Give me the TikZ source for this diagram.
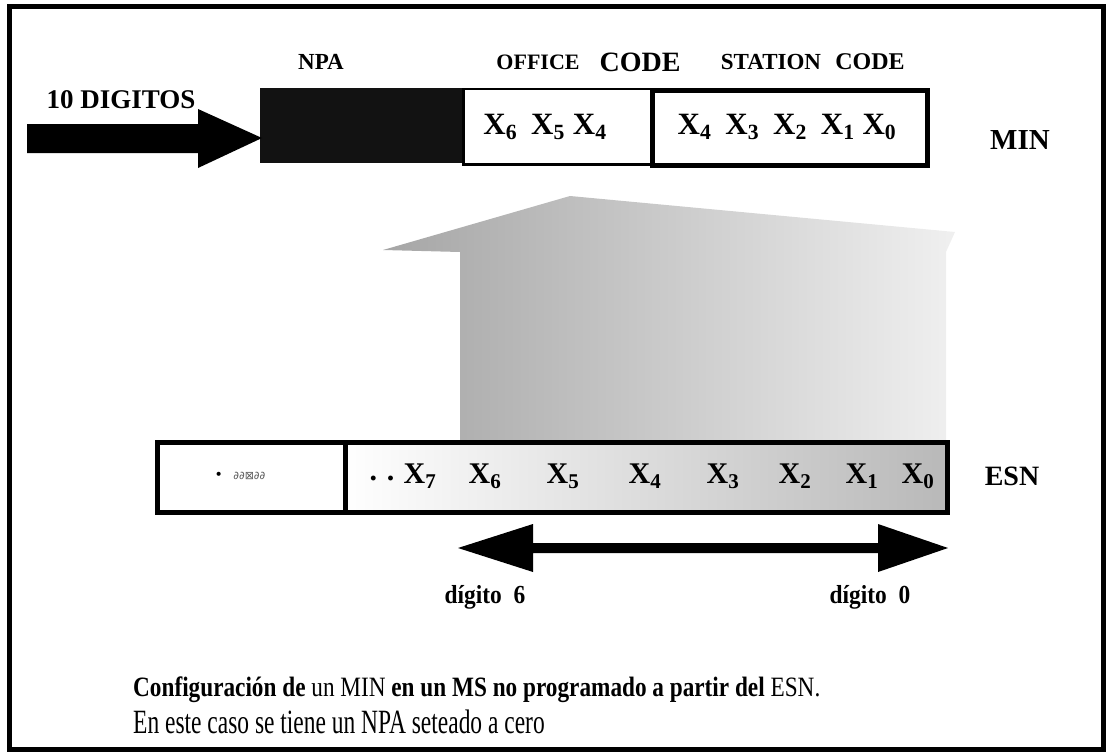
\documentclass[tikz,border=0pt]{standalone}
\usepackage{fontspec}
\setmainfont{Liberation Serif}
\newfontfamily\djv{DejaVu Sans}
\usetikzlibrary{arrows.meta}
\tikzset{
  lbl/.style={font=\bfseries\fontsize{23}{26}\selectfont, inner sep=0pt},
  big/.style={font=\bfseries\fontsize{28}{30}\selectfont, inner sep=0pt},
  dig/.style={font=\bfseries\fontsize{31}{32}\selectfont, inner sep=0pt},
  edig/.style={font=\bfseries\fontsize{30}{32}\selectfont, inner sep=0pt},
  frame/.style={line width=5pt},
}
\newcommand{\Xs}[1]{X\textsubscript{#1}}
\newcommand{\gp}{\hspace{14pt}}
\begin{document}
\begin{tikzpicture}[x=1pt,y=-1pt]
\useasboundingbox (0,0) rectangle (1106,752);
\draw[frame] (9.5,6.5) rectangle (1103.5,749.5);

% big up arrow (shaded)
\shade[left color=gray!70, right color=gray!12]
  (460,440) -- (460,252) -- (383,250) -- (570,196) -- (955,232) -- (946,252) -- (946,440) -- cycle;

% MIN box
\fill[black!93] (260,88) rectangle (462,163);
\node[lbl] (npa) at (321,62) {NPA};
\node[lbl,font=\bfseries\fontsize{22}{26}\selectfont] (office) at (538,62) {OFFICE};
\node[big] (code1) at (640,62) {CODE};
\node[lbl] (station) at (771,62) {STATION};
\node[lbl,font=\bfseries\fontsize{24}{26}\selectfont] (code2) at (870,62) {CODE};
\node[draw,line width=2.5pt,fill=white,minimum width=188pt,minimum height=75pt,anchor=north west] (off) at (462,88) {};
\node[draw,line width=5pt,fill=white,minimum width=275pt,minimum height=75pt,anchor=north west] (sta) at (650,88) {};
\node[dig] at (545,127) {\Xs{6}\gp\Xs{5}\hspace{8pt}\Xs{4}};
\node[dig] at (787,127) {\Xs{4}\gp\Xs{3}\gp\Xs{2}\gp\Xs{1}\hspace{8pt}\Xs{0}};
\node[big,font=\bfseries\fontsize{29}{30}\selectfont] (min) at (1020,140) {MIN};

% left arrow
\node[big,font=\bfseries\fontsize{27}{28}\selectfont] (d10) at (121,100) {10 DIGITOS};
\fill (27,124) -- (198,124) -- (198,109) -- (262,138) -- (198,168) -- (198,153) -- (27,153) -- cycle;

% ESN box
\node[draw,line width=5pt,fill=white,minimum width=188pt,minimum height=70pt,anchor=north west] (esnl) at (155,440) {};
\shade[left color=white, right color=gray!55] (343,440) rectangle (945,510);
\node[draw,line width=5pt,minimum width=602pt,minimum height=70pt,anchor=north west] (esnr) at (343,440) {};
\node[font=\djv\fontsize{11}{12}\selectfont,text=gray!70!black] at (240,476) {\textcolor{black}{\fontsize{14}{14}\selectfont •}\ \ \ ∂∂⊠∂∂};
\node[edig] at (382,478) {. .};
\node[edig] at (420,476) {\Xs{7}};
\node[edig] at (485,476) {\Xs{6}};
\node[edig] at (563,476) {\Xs{5}};
\node[edig] at (645,476) {\Xs{4}};
\node[edig] at (723,476) {\Xs{3}};
\node[edig] at (795,476) {\Xs{2}};
\node[edig] at (862,476) {\Xs{1}};
\node[edig] at (918,476) {\Xs{0}};
\node[big] (esn) at (1012,476) {ESN};

% double arrow
\fill (458,548) -- (533,524) -- (533,543) -- (878,543) -- (878,524) -- (948,548) -- (878,572) -- (878,553) -- (533,553) -- (533,572) -- cycle;
\node[inner sep=0pt] (d6) at (485,597) {\scalebox{0.9}[1]{\bfseries\fontsize{26}{28}\selectfont dígito\ \ 6}};
\node[inner sep=0pt] (d0) at (870,597) {\scalebox{0.9}[1]{\bfseries\fontsize{26}{28}\selectfont dígito\ \ 0}};

% caption
\node[anchor=west,inner sep=0pt] (cap1) at (133,690) {\scalebox{0.83}[1]{\fontsize{28}{30}\selectfont\textbf{Configuración de} un MIN \textbf{en un MS no programado a partir del} ESN.}};
\node[anchor=west,inner sep=0pt] (cap2) at (133,722) {\scalebox{0.69}[1]{\fontsize{34}{36}\selectfont En este caso se tiene un NPA seteado a cero}};
\end{tikzpicture}
\end{document}
